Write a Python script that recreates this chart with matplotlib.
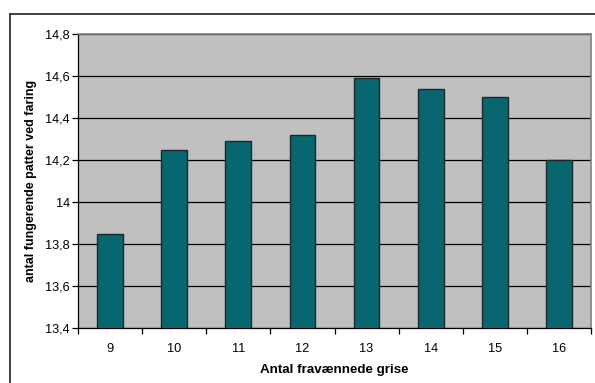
import matplotlib
matplotlib.use("Agg")
import matplotlib.pyplot as plt
from matplotlib.lines import Line2D
import numpy as np

categories = ["9", "10", "11", "12", "13", "14", "15", "16"]
values = [13.85, 14.25, 14.29, 14.32, 14.59, 14.54, 14.50, 14.20]
yticks = [13.4, 13.6, 13.8, 14.0, 14.2, 14.4, 14.6, 14.8]
ytick_labels = ["13,4", "13,6", "13,8", "14", "14,2", "14,4", "14,6", "14,8"]
xlabel = "Antal fravænnede grise"
ylabel = "antal fungerende patter ved faring"

plt.rcParams["font.family"] = ["Liberation Sans", "DejaVu Sans"]

W, H = 595, 383
fig = plt.figure(figsize=(W / 100, H / 100), dpi=100)
fig.patch.set_facecolor("white")

# plot area in pixel coordinates
left, top, right, bottom = 78, 34, 591, 328
ax = fig.add_axes([left / W, 1 - bottom / H, (right - left) / W, (bottom - top) / H])
ax.set_facecolor("#C0C0C0")

x = np.arange(len(categories))
ax.bar(x, values, width=0.4, bottom=0, color="#086670", edgecolor="#1a2a2a",
       linewidth=1.0, zorder=3)

ax.set_xlim(-0.5, len(categories) - 0.5)
ax.set_ylim(13.4, 14.8)

ax.set_yticks(yticks)
ax.set_yticklabels(ytick_labels)
ax.yaxis.grid(True, color="black", linewidth=0.9, zorder=1)
ax.set_axisbelow(True)

# category labels centred, tick marks between categories
ax.set_xticks(x)
ax.set_xticklabels(categories)
ax.set_xticks(np.arange(len(categories) + 1) - 0.5, minor=True)
ax.tick_params(axis="x", which="major", length=0, pad=11, labelsize=9.2, colors="#000000")
ax.tick_params(axis="x", which="minor", length=4, width=0.9, direction="out", color="black")
ax.tick_params(axis="y", which="major", length=4, width=0.9, direction="out",
               labelsize=9.2, pad=2, color="black")

for side in ("left", "bottom"):
    ax.spines[side].set_color("black")
    ax.spines[side].set_linewidth(0.9)
for side in ("top", "right"):
    ax.spines[side].set_color("#808080")
    ax.spines[side].set_linewidth(1.2)

ax.set_xlabel(xlabel, fontsize=9.6, fontweight="bold", labelpad=6)
ax.set_ylabel(ylabel, fontsize=9.0, fontweight="bold", labelpad=6)

# chart frame (left and top edges; the rest runs off the canvas)
fx = 9.5 / W
fy = 1 - 14 / H
fig.add_artist(Line2D([fx, fx], [fy, -0.1], transform=fig.transFigure, color="#333333", linewidth=1.3))
fig.add_artist(Line2D([fx, 1.1], [fy, fy], transform=fig.transFigure, color="#333333", linewidth=1.3))

fig.savefig("out.png", dpi=100, facecolor="white")
